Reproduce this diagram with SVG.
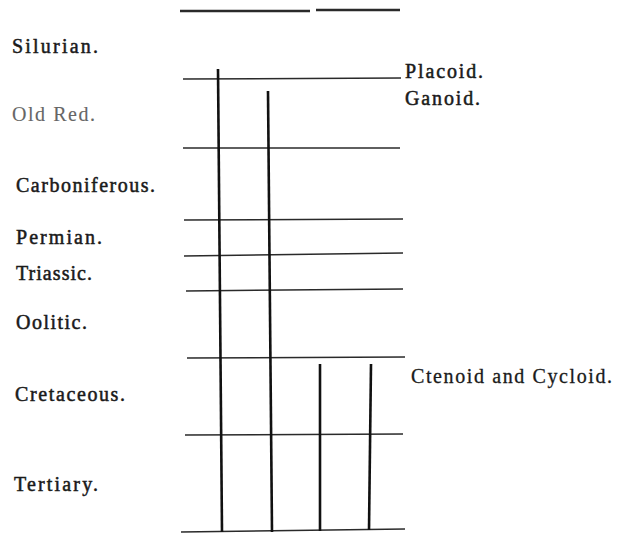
<svg xmlns="http://www.w3.org/2000/svg" width="617" height="535" viewBox="0 0 617 535">
<style>
text{font-family:"Liberation Serif","DejaVu Serif",serif;font-size:20px;fill:#1a1a1a;stroke:#1a1a1a;stroke-width:0.5;}
.h{stroke:#2a2a2a;stroke-width:1.5;fill:none;}
.v{stroke:#111;stroke-width:2.6;fill:none;}
</style>
<rect width="617" height="535" fill="#fff"/>
<g id="labels">
<text id="silurian" x="12" y="53" textLength="86">Silurian.</text>
<text id="oldred" x="12" y="121" textLength="83" style="fill:#666;stroke:#666;stroke-width:0.1">Old Red.</text>
<text id="carboniferous" x="16" y="192" textLength="139">Carboniferous.</text>
<text id="permian" x="16" y="244" textLength="86">Permian.</text>
<text id="triassic" x="16" y="280" textLength="76">Triassic.</text>
<text id="oolitic" x="16" y="329" textLength="71">Oolitic.</text>
<text id="cretaceous" x="15" y="401" textLength="110">Cretaceous.</text>
<text id="tertiary" x="14" y="491" textLength="84">Tertiary.</text>
<text id="placoid" x="405" y="78" textLength="78">Placoid.</text>
<text id="ganoid" x="405" y="105" textLength="75">Ganoid.</text>
<text id="ctenoid" x="411" y="383" textLength="201" style="stroke-width:0.3">Ctenoid and Cycloid.</text>
</g>
<g id="strata">
<line class="h" x1="180" y1="11" x2="310" y2="11" style="stroke-width:2.6"/>
<line class="h" x1="316" y1="10" x2="400" y2="10" style="stroke-width:2.6"/>
<line class="h" x1="183" y1="79" x2="401" y2="78"/>
<line class="h" x1="183" y1="148" x2="400" y2="148"/>
<line class="h" x1="184" y1="220" x2="403" y2="219"/>
<line class="h" x1="184" y1="256" x2="403" y2="253"/>
<line class="h" x1="186" y1="291" x2="403" y2="289"/>
<line class="h" x1="187" y1="358" x2="405" y2="357"/>
<line class="h" x1="185" y1="435" x2="403" y2="434"/>
<line class="h" x1="181" y1="532" x2="405" y2="529"/>
</g>
<g id="connectors">
<line class="v" x1="218" y1="69" x2="222" y2="532"/>
<line class="v" x1="268" y1="91" x2="272" y2="532"/>
<line class="v" x1="320" y1="364" x2="320" y2="531"/>
<line class="v" x1="371" y1="364" x2="369" y2="530"/>
</g>
</svg>
